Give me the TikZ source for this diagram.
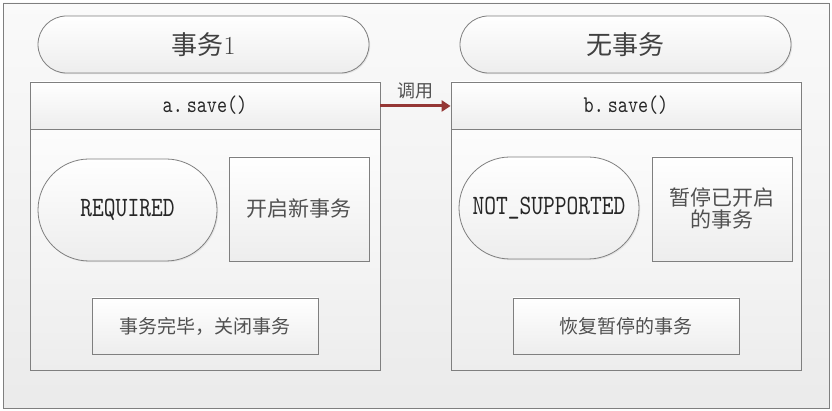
\documentclass[tikz,border=0pt]{standalone}
\usepackage{fontspec}
\newfontfamily\cjk{Noto Sans CJK SC}
\newfontfamily\mono{lmmono10-regular.otf}[FakeStretch=0.8]
\usetikzlibrary{shadows,arrows.meta}
\definecolor{linegray}{HTML}{7F7F7F}
\definecolor{txtgray}{HTML}{505050}
\definecolor{arrowred}{HTML}{953735}
\tikzset{
  boxbase/.style={draw=linegray, line width=0.8pt, top color=white, bottom color=black!7,
    drop shadow={shadow xshift=1.2pt, shadow yshift=-1.2pt, fill=black!12, opacity=0.8},
    inner sep=0pt, anchor=center},
  pill/.style={boxbase, rounded corners=#1},
  sqbox/.style={boxbase, rounded corners=0pt},
  cjktext/.style={font=\cjk\fontsize{#1}{#1}\selectfont, text=txtgray},
  monotext/.style={font=\mono\fontsize{#1}{#1}\selectfont, text=black!85},
}
\begin{document}
\begin{tikzpicture}[x=1pt,y=-1pt]
\useasboundingbox (0,0) rectangle (832,411);
% outer frame
\node[draw=linegray, line width=0.8pt, top color=black!2, bottom color=black!8,
      minimum width=826pt, minimum height=405pt, inner sep=0pt] (frame) at (416,205.5) {};
% titles
\node[pill=28.5pt, minimum width=331pt, minimum height=57pt, cjktext=26pt, text=black!75]
  (t1) at (203.5,44.5) {事务{\rmfamily 1}};
\node[pill=28.5pt, minimum width=331pt, minimum height=57pt, cjktext=26pt, text=black!75]
  (t2) at (625.5,44.5) {无事务};
% method boxes
\node[sqbox, minimum width=350pt, minimum height=288pt] (abody) at (205,226) {};
\node[sqbox, minimum width=350pt, minimum height=47pt, monotext=24pt]
  (ahead) at (205,105.5) {a.\kern4pt save()};
\node[sqbox, minimum width=350pt, minimum height=288pt] (bbody) at (626,226) {};
\node[sqbox, minimum width=350pt, minimum height=47pt, monotext=24pt]
  (bhead) at (626,105.5) {b.\kern4pt save()};
% inner of a
\node[pill=51pt, minimum width=179pt, minimum height=102pt, monotext=28pt]
  (req) at (127.5,210) {\raisebox{-2pt}{REQUIRED}};
\node[sqbox, minimum width=140pt, minimum height=104pt, cjktext=21pt]
  (open) at (299,209) {开启新事务};
\node[sqbox, minimum width=226pt, minimum height=56pt, cjktext=19pt]
  (close) at (205,326) {事务完毕，关闭事务};
% inner of b
\node[pill=51pt, minimum width=180pt, minimum height=102pt, monotext=28pt]
  (ns) at (549,208) {NOT\_SUPPORTED};
\node[sqbox, minimum width=140pt, minimum height=104pt, cjktext=21pt, align=center]
  (pause) at (722,209) {暂停已开启\\[1pt]的事务};
\node[sqbox, minimum width=226pt, minimum height=56pt, cjktext=19pt]
  (resume) at (626,326) {恢复暂停的事务};
% arrow
\draw[arrowred, line width=3pt, -{Triangle[length=9pt,width=11pt]}]
  ([yshift=-0.5pt]ahead.east) -- node[above=2pt, cjktext=18pt] (call) {调用} ([yshift=-0.5pt]bhead.west);
\end{tikzpicture}
\end{document}
